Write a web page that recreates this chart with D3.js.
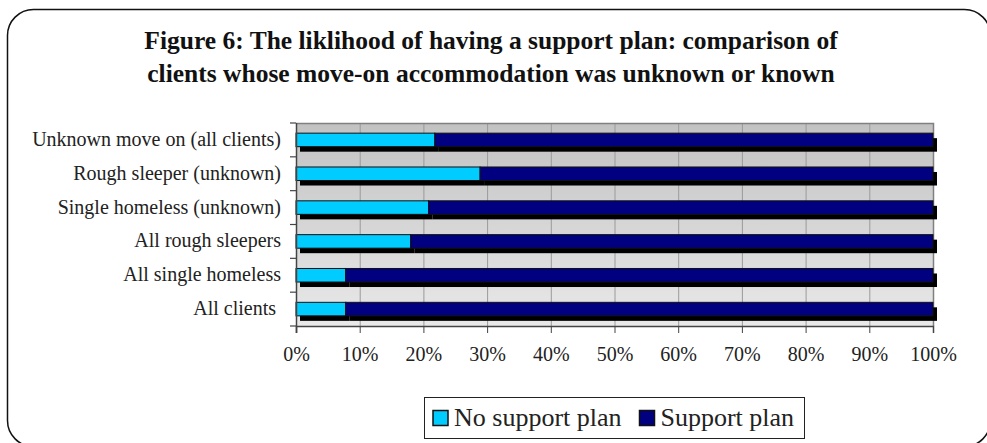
<!DOCTYPE html>
<html>
<head>
<meta charset="utf-8">
<script src="https://cdn.jsdelivr.net/npm/d3@7"></script>
<style>
  body { margin: 0; background: #fff; }
  svg text { font-family: "Liberation Serif", "Times New Roman", serif; }
</style>
</head>
<body>
<div id="chart"></div>
<script>
// categories top to bottom, as in the figure
var categories = [
  'Unknown move on (all clients)',
  'Rough sleeper (unknown)',
  'Single homeless (unknown)',
  'All rough sleepers',
  'All single homeless',
  'All clients '
];
var noSupportPlan = [21.8, 28.9, 20.8, 18.0, 7.8, 7.8];
var supportPlan = [78.2, 71.1, 79.2, 82.0, 92.2, 92.2];
var seriesNames = ['No support plan', 'Support plan'];
var tickValues = [0, 10, 20, 30, 40, 50, 60, 70, 80, 90, 100];
var titleLines = [
  'Figure 6: The liklihood of having a support plan: comparison of',
  'clients whose move-on accommodation was unknown or known'
];

var colors = {
  noPlan: '#00ccff',
  plan: '#000080',
  shadow: '#000000',
  grid: '#9a9a9a',
  frame: '#808080'
};

var w = 987, h = 443;
var margin = { top: 123, left: 296, right: 54, bottom: 117 };
var width = w - margin.left - margin.right;   // 637
var height = h - margin.top - margin.bottom;  // ~203

var svg = d3.select('#chart').append('svg')
  .attr('width', w)
  .attr('height', h);

// outer rounded frame (runs off the right / bottom edge a little)
svg.append('rect')
  .attr('x', 7.5).attr('y', 9.5)
  .attr('width', 983).attr('height', 437)
  .attr('rx', 26).attr('ry', 26)
  .attr('fill', '#fff')
  .attr('stroke', '#111')
  .attr('stroke-width', 1.5);

// title
svg.append('g').selectAll('text')
  .data(titleLines)
  .enter().append('text')
  .attr('x', 491)
  .attr('y', function (d, i) { return 49 + i * 33; })
  .attr('text-anchor', 'middle')
  .attr('fill', '#111')
  .style('font-size', '25.5px')
  .style('font-weight', 'bold')
  .text(function (d) { return d; });

// stack the two series
var rows = categories.map(function (c, i) {
  return { name: c, noPlan: noSupportPlan[i], plan: supportPlan[i] };
});
var stacked = d3.stack().keys(['noPlan', 'plan'])(rows);

var x = d3.scaleLinear().domain([0, 100]).range([0, width]);
var y = d3.scaleBand().domain(categories).range([0, height])
  .paddingInner(0.6).paddingOuter(0.3);

var defs = svg.append('defs');
var grad = defs.append('linearGradient')
  .attr('id', 'plotBg')
  .attr('x1', 0).attr('y1', 0).attr('x2', 0).attr('y2', 1);
grad.append('stop').attr('offset', '0%').attr('stop-color', '#c2c2c2');
grad.append('stop').attr('offset', '100%').attr('stop-color', '#e9e9e9');

var chart = svg.append('g')
  .attr('transform', 'translate(' + margin.left + ',' + margin.top + ')');

chart.append('rect')
  .attr('width', width).attr('height', height)
  .attr('fill', 'url(#plotBg)');

// vertical gridlines
chart.append('g').selectAll('line')
  .data(tickValues.slice(1, -1))
  .enter().append('line')
  .attr('x1', function (d) { return x(d) + 0.5; })
  .attr('x2', function (d) { return x(d) + 0.5; })
  .attr('y1', 0).attr('y2', height)
  .attr('stroke', colors.grid)
  .attr('stroke-width', 1);

// plot frame top + right
chart.append('path')
  .attr('d', 'M0,0.5H' + (width + 0.5) + 'V' + height)
  .attr('fill', 'none')
  .attr('stroke', colors.frame)
  .attr('stroke-width', 1.5);

// drop shadows first
var shadowDx = 4, shadowDy = 5;
chart.append('g').selectAll('g')
  .data(stacked)
  .enter().append('g')
  .selectAll('rect')
  .data(function (d) { return d; })
  .enter().append('rect')
  .attr('x', function (d) { return x(d[0]) + shadowDx; })
  .attr('y', function (d) { return y(d.data.name) + shadowDy; })
  .attr('width', function (d) { return x(d[1]) - x(d[0]); })
  .attr('height', y.bandwidth())
  .attr('fill', colors.shadow);

// the bars
chart.append('g').selectAll('g')
  .data(stacked)
  .enter().append('g')
  .attr('fill', function (d) { return d.key === 'noPlan' ? colors.noPlan : colors.plan; })
  .selectAll('rect')
  .data(function (d) { return d; })
  .enter().append('rect')
  .attr('x', function (d) { return x(d[0]); })
  .attr('y', function (d) { return y(d.data.name); })
  .attr('width', function (d) { return x(d[1]) - x(d[0]); })
  .attr('height', y.bandwidth())
  .attr('stroke', '#111')
  .attr('stroke-width', 1);

// x axis
var xAxis = chart.append('g')
  .attr('transform', 'translate(0,' + height + ')')
  .call(d3.axisBottom(x)
    .tickValues(tickValues)
    .tickSize(7)
    .tickPadding(14)
    .tickFormat(function (d) { return d + '%'; }));
xAxis.select('.domain').attr('stroke', '#444').attr('stroke-width', 1.5);
xAxis.selectAll('.tick line').attr('stroke', '#444');
xAxis.selectAll('text')
  .attr('fill', '#222')
  .style('font-size', '20px')
  .style('font-family', '"Liberation Serif", serif');

// y axis: ticks sit on the band boundaries, not on the bars
var yAxis = chart.append('g');
yAxis.append('line')
  .attr('x1', 0.5).attr('x2', 0.5)
  .attr('y1', 0).attr('y2', height + 7)
  .attr('stroke', '#444').attr('stroke-width', 1.5);
var bounds = categories.map(function (c) { return y(c) - y.step() * y.paddingInner() / 2; });
bounds.push(height);
yAxis.selectAll('.tk')
  .data(bounds)
  .enter().append('line')
  .attr('x1', -6).attr('x2', 0)
  .attr('y1', function (d) { return d; })
  .attr('y2', function (d) { return d; })
  .attr('stroke', '#444').attr('stroke-width', 1.2);
yAxis.selectAll('text')
  .data(categories)
  .enter().append('text')
  .attr('x', -15)
  .attr('y', function (d) { return y(d) + y.bandwidth() / 2 + 6; })
  .attr('text-anchor', 'end')
  .attr('fill', '#222')
  .style('font-size', '20px')
  .style('white-space', 'pre')
  .text(function (d) { return d; });

// legend
var legend = svg.append('g').attr('transform', 'translate(424.5,397.5)');
legend.append('rect')
  .attr('width', 380).attr('height', 41)
  .attr('fill', '#fff').attr('stroke', '#222').attr('stroke-width', 1);
var legendX = [8.5, 215];
var item = legend.selectAll('.item')
  .data(seriesNames)
  .enter().append('g')
  .attr('transform', function (d, i) { return 'translate(' + legendX[i] + ',0)'; });
item.append('rect')
  .attr('x', 0).attr('y', 13)
  .attr('width', 15).attr('height', 15)
  .attr('fill', function (d, i) { return i === 0 ? colors.noPlan : colors.plan; })
  .attr('stroke', '#111').attr('stroke-width', 1.5);
item.append('text')
  .attr('x', 21).attr('y', 28)
  .style('font-size', '26px')
  .attr('fill', '#222')
  .text(function (d) { return d; });
</script>
</body>
</html>
